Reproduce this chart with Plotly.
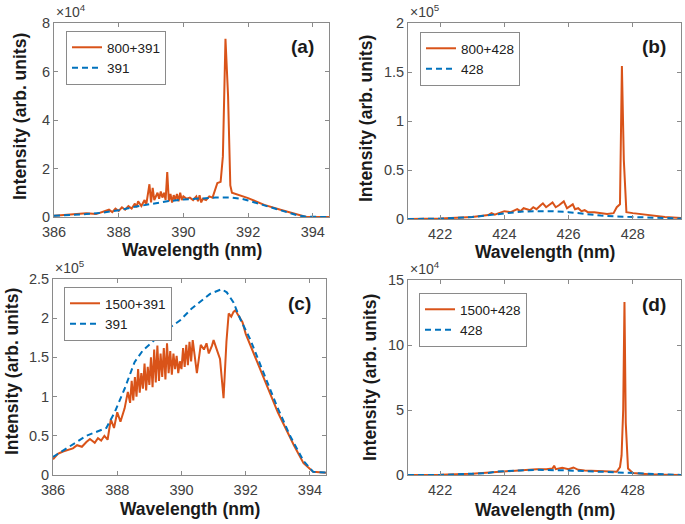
import plotly.graph_objects as go

# ---------------- data ----------------
# (a) 800+391 (x1e4)
a_or_x = [386.0, 386.5, 387.0, 387.3, 387.5, 387.7, 387.8, 387.9, 388.0, 388.1, 388.2, 388.3, 388.4,
          388.5, 388.55, 388.6, 388.7, 388.8, 388.85, 388.95, 389.0, 389.05, 389.1, 389.2, 389.25,
          389.3, 389.35, 389.4, 389.45, 389.5, 389.55, 389.6, 389.65, 389.7, 389.75, 389.8, 389.85,
          389.9, 389.95, 390.0, 390.1, 390.2, 390.3, 390.4, 390.45, 390.5, 390.55, 390.6, 390.7,
          390.8, 390.9, 391.0, 391.05, 391.15, 391.22, 391.3, 391.38, 391.45, 391.5, 392.0, 392.5,
          393.0, 393.5, 393.8, 394.5]
a_or_y = [0.05, 0.1, 0.15, 0.12, 0.2, 0.3, 0.2, 0.35, 0.25, 0.4, 0.3, 0.45, 0.35,
          0.55, 0.4, 0.65, 0.45, 0.7, 0.5, 1.35, 0.6, 1.2, 0.7, 1.0, 0.75,
          1.05, 0.8, 1.0, 0.7, 1.85, 0.65, 0.95, 0.6, 0.9, 0.7, 0.95, 0.65,
          1.0, 0.7, 0.85, 0.75, 0.8, 0.7, 0.85, 0.65, 0.9, 0.6, 0.75, 0.7,
          0.85, 0.8, 1.2, 1.4, 1.45, 2.5, 7.35, 5.0, 1.3, 1.0, 0.78, 0.5,
          0.3, 0.1, 0.0, 0.0]
# (a) 391 (x1e4)
a_bl_x = [386.0, 386.5, 387.0, 387.5, 388.0, 388.5, 389.0, 389.5, 390.0, 390.5, 391.0, 391.5,
          391.8, 392.0, 392.5, 393.0, 393.5, 393.8, 394.5]
a_bl_y = [0.05, 0.08, 0.12, 0.18, 0.28, 0.42, 0.55, 0.65, 0.72, 0.77, 0.8, 0.8,
          0.75, 0.68, 0.48, 0.28, 0.08, 0.01, 0.0]

# (b) 800+428 (x1e5)
b_or_x = [421.0, 422.0, 423.0, 423.5, 423.6, 423.7, 424.0, 424.2, 424.4, 424.5, 424.6, 424.8,
          424.9, 425.0, 425.13, 425.2, 425.3, 425.5, 425.6, 425.7, 425.85, 425.95, 426.13, 426.2,
          426.3, 426.4, 426.5, 426.6, 426.8, 427.0, 427.2, 427.4, 427.5, 427.6, 427.66, 427.72,
          427.8, 428.0, 428.5, 429.0, 429.5]
b_or_y = [0.0, 0.005, 0.02, 0.04, 0.06, 0.045, 0.08, 0.07, 0.1, 0.08, 0.11, 0.09,
          0.12, 0.1, 0.14, 0.16, 0.12, 0.17, 0.12, 0.14, 0.18, 0.11, 0.15, 0.1,
          0.11, 0.08, 0.09, 0.07, 0.07, 0.06, 0.05, 0.06, 0.12, 0.15, 1.56, 0.6,
          0.07, 0.06, 0.04, 0.02, 0.01]
# (b) 428 (x1e5)
b_bl_x = [421.0, 422.0, 423.0, 424.0, 424.5, 425.0, 425.5, 426.0, 426.5, 427.0, 427.5, 428.0,
          428.5, 429.0, 429.5]
b_bl_y = [0.0, 0.003, 0.02, 0.06, 0.075, 0.08, 0.08, 0.07, 0.05, 0.035, 0.025, 0.02,
          0.02, 0.015, 0.005]

# (c) 1500+391 (x1e5)
c_or_x = [386.0, 386.15, 386.31, 386.45, 386.62, 386.75, 386.9, 387.04, 387.15, 387.3, 387.4, 387.5,
          387.6, 387.7, 387.8, 387.9, 388.0, 388.1, 388.23, 388.33, 388.4,
          388.45, 388.5, 388.55, 388.6, 388.65, 388.7, 388.75, 388.8, 388.85, 388.9, 388.95,
          389.0, 389.05, 389.1, 389.15, 389.2, 389.25, 389.3, 389.35, 389.4, 389.45, 389.5,
          389.55, 389.6, 389.65, 389.7, 389.75, 389.8, 389.85, 389.9, 389.95, 390.0, 390.05,
          390.1, 390.15, 390.2, 390.25, 390.3, 390.35, 390.48, 390.6, 390.7, 390.78, 390.85,
          390.95, 391.0, 391.1, 391.2, 391.31, 391.4, 391.47, 391.55, 391.62, 391.68, 391.75,
          391.82, 391.9, 392.0, 392.5, 393.0, 393.5, 393.8, 394.1, 394.5]
c_or_y = [0.2, 0.27, 0.3, 0.32, 0.34, 0.38, 0.36, 0.42, 0.46, 0.41, 0.47, 0.44,
          0.5, 0.45, 0.71, 0.6, 0.8, 0.68, 0.85, 1.06, 0.92,
          1.2, 0.95, 1.25, 1.0, 1.35, 1.05, 1.3, 1.1, 1.42, 1.08, 1.38,
          1.15, 1.5, 1.12, 1.6, 1.18, 1.65, 1.2, 1.55, 1.25, 1.62, 1.22,
          1.68, 1.3, 1.58, 1.28, 1.55, 1.35, 1.52, 1.3, 1.45, 1.35, 1.62,
          1.38, 1.66, 1.4, 1.7, 1.45, 1.72, 1.3, 1.66, 1.6, 1.68, 1.55,
          1.65, 1.72, 1.6, 1.48, 0.98, 1.7, 2.06, 2.02, 2.08, 2.1, 2.05,
          2.0, 1.95, 1.8, 1.3, 0.8, 0.38, 0.15, 0.04, 0.03]
# (c) 391 (x1e5)
c_bl_x = [386.0, 386.5, 387.04, 387.66, 387.92, 388.23, 388.54, 388.8, 389.43, 389.95, 390.31,
          390.89, 391.25, 391.41, 391.62, 391.83, 392.14, 392.55, 392.97, 393.38, 393.8,
          394.1, 394.5]
c_bl_y = [0.23, 0.36, 0.5, 0.6, 0.8, 1.1, 1.44, 1.59, 1.82, 1.97, 2.12,
          2.31, 2.37, 2.33, 2.2, 1.99, 1.73, 1.31, 0.88, 0.5, 0.18,
          0.04, 0.03]

# (d) 1500+428 (x1e4)
d_or_x = [421.0, 422.0, 423.0, 423.6, 424.0, 424.5, 425.0, 425.3, 425.5, 425.55, 425.6, 425.8,
          426.0, 426.15, 426.3, 426.5, 427.0, 427.5, 427.6, 427.65, 427.7, 427.74, 427.78,
          427.85, 428.0, 428.5, 429.0, 429.5]
d_or_y = [0.0, 0.02, 0.1, 0.2, 0.3, 0.35, 0.45, 0.45, 0.5, 0.72, 0.45, 0.55,
          0.45, 0.58, 0.4, 0.35, 0.3, 0.25, 0.6, 1.5, 5.0, 13.3, 4.0,
          0.5, 0.15, 0.05, 0.02, 0.0]
# (d) 428 (x1e4)
d_bl_x = [421.0, 422.0, 423.0, 423.5, 423.7, 424.0, 424.5, 425.0, 425.5, 426.0, 426.5, 427.0,
          427.5, 428.0, 428.5, 429.0, 429.5]
d_bl_y = [0.0, 0.0, 0.1, 0.15, 0.25, 0.3, 0.35, 0.4, 0.4, 0.35, 0.3, 0.25,
          0.2, 0.1, 0.05, 0.02, 0.0]

names = [("800+391", "391"), ("800+428", "428"), ("1500+391", "391"), ("1500+428", "428")]
panel_labels = ["(a)", "(b)", "(c)", "(d)"]
exponents = ["4", "5", "5", "4"]
x_ticks_ac = [386, 388, 390, 392, 394]
x_ticks_bd = [422, 424, 426, 428]
y_ticks = [[0, 2, 4, 6, 8], [0, 0.5, 1, 1.5, 2], [0, 0.5, 1, 1.5, 2, 2.5], [0, 5, 10, 15]]
y_ranges = [[0, 8], [0, 2], [0, 2.5], [0, 15]]
x_ranges = [[386, 394.5], [421, 429.5], [386, 394.5], [421, 429.5]]

# ---------------- layout geometry ----------------
W, H = 685, 524
def px(x): return x / W
def py(y): return 1 - y / H

# plot boxes in pixels: (left, right, top, bottom)
boxes = [(54, 329, 23, 217), (408, 681, 23, 219), (53, 326, 279, 475), (408, 681, 280, 475)]

ORANGE = "#D95319"
BLUE = "#0072BD"
FONT = "Arial, Liberation Sans, sans-serif"
AX = "#8a8a8a"

fig = go.Figure()
series = [(a_or_x, a_or_y, a_bl_x, a_bl_y), (b_or_x, b_or_y, b_bl_x, b_bl_y),
          (c_or_x, c_or_y, c_bl_x, c_bl_y), (d_or_x, d_or_y, d_bl_x, d_bl_y)]
legend_pos = [(66, 31), (420, 32), (64, 287), (419, 293)]

annotations = []
for i, (ox, oy, bx, by) in enumerate(series):
    k = "" if i == 0 else str(i + 1)
    leg = "legend" if i == 0 else "legend" + str(i + 1)
    fig.add_trace(go.Scatter(x=ox, y=oy, mode="lines", name=names[i][0],
                             line=dict(color=ORANGE, width=2), xaxis="x" + k, yaxis="y" + k,
                             legend=leg))
    fig.add_trace(go.Scatter(x=bx, y=by, mode="lines", name=names[i][1],
                             line=dict(color=BLUE, width=2, dash="6px,4px"), xaxis="x" + k,
                             yaxis="y" + k, legend=leg))
    l, r, t, b = boxes[i]
    xt = x_ticks_ac if i in (0, 2) else x_ticks_bd
    common = dict(showline=True, linecolor=AX, linewidth=1, mirror="ticks", ticks="inside",
                  ticklen=4, tickcolor=AX, showgrid=False, zeroline=False, automargin=False,
                  tickfont=dict(family=FONT, size=14.5, color="#404040"))
    fig.layout["xaxis" + k] = dict(domain=[px(l), px(r)], range=x_ranges[i], tickvals=xt,
                                   anchor="y" + k, ticklabelstandoff=2, **common)
    fig.layout["yaxis" + k] = dict(domain=[py(b), py(t)], range=y_ranges[i], tickvals=y_ticks[i],
                                   ticktext=[("%g" % v) for v in y_ticks[i]],
                                   anchor="x" + k, **common)
    lx, ly = legend_pos[i]
    fig.layout[leg] = dict(x=px(lx), y=py(ly), xanchor="left", yanchor="top",
                           bgcolor="white", bordercolor=AX, borderwidth=1,
                           font=dict(family=FONT, size=13.5, color="#202020"),
                           itemwidth=30, tracegroupgap=0)
    # exponent label
    annotations.append(dict(x=px(l), y=py(t - 1), xref="paper", yref="paper", xanchor="left",
                            yanchor="bottom", showarrow=False,
                            text="×10<sup>" + exponents[i] + "</sup>",
                            font=dict(family=FONT, size=14, color="#404040")))
    # panel label
    annotations.append(dict(x=px(r - 13), y=py(t + 24), xref="paper", yref="paper",
                            xanchor="right", yanchor="middle", showarrow=False,
                            text="<b>" + panel_labels[i] + "</b>",
                            font=dict(family=FONT, size=19, color="#1a1a1a")))

# axis titles
ytitle_pos = [(20, 117), (366, 118), (12, 372), (370, 378)]
xtitle_pos = [(192, 250), (545, 252), (190, 509), (545, 510)]
for i in range(4):
    annotations.append(dict(x=px(ytitle_pos[i][0]), y=py(ytitle_pos[i][1]), xref="paper",
                            yref="paper", textangle=-90, showarrow=False,
                            xanchor="center", yanchor="middle",
                            text="<b>Intensity (arb. units)</b>",
                            font=dict(family=FONT, size=17.5, color="#1a1a1a")))
    annotations.append(dict(x=px(xtitle_pos[i][0]), y=py(xtitle_pos[i][1]), xref="paper",
                            yref="paper", showarrow=False, xanchor="center", yanchor="middle",
                            text="<b>Wavelength (nm)</b>",
                            font=dict(family=FONT, size=17.5, color="#1a1a1a")))

fig.update_layout(width=W, height=H, margin=dict(l=0, r=0, t=0, b=0, pad=0, autoexpand=False),
                  paper_bgcolor="white", plot_bgcolor="white", annotations=annotations,
                  showlegend=True)

fig.write_html("out.html", config={"displayModeBar": False},
               post_script="document.body.style.margin='0px';document.body.style.overflow='hidden';")
